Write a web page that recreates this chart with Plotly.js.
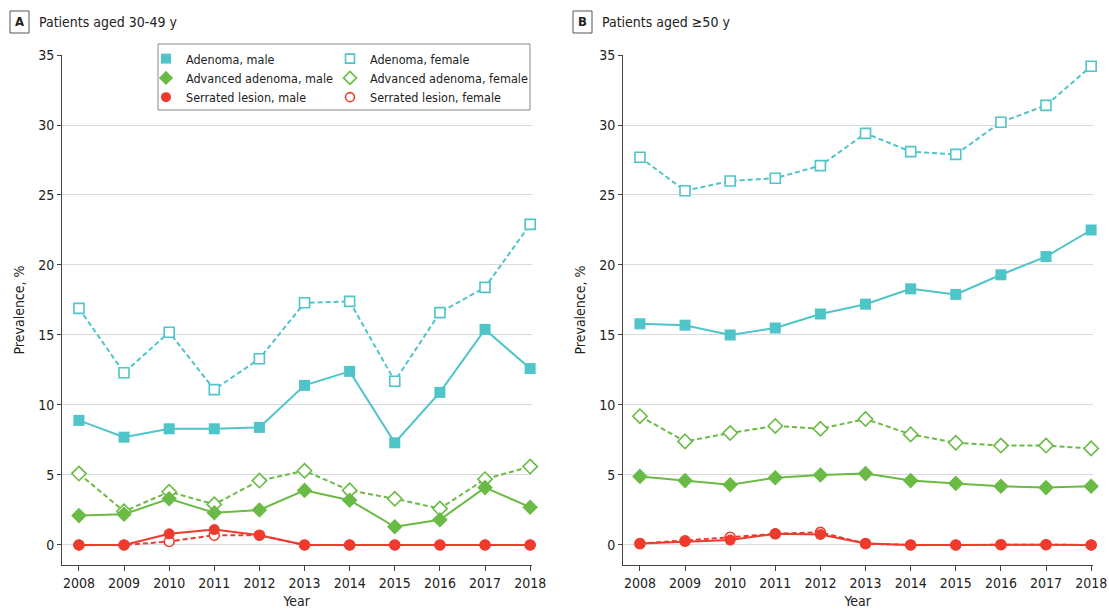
<!DOCTYPE html>
<html><head><meta charset="utf-8">
<script src="https://cdn.plot.ly/plotly-3.0.1.min.js"></script>
<style>body{margin:0;padding:0;background:#fff}#chart{width:1109px;height:609px}</style>
</head><body><div id="chart"></div>
<script>
const years = [2008,2009,2010,2011,2012,2013,2014,2015,2016,2017,2018];
const tickLabels = ['2008','2009','2010','2011','2012','2013','2014','2015','2016','2017','2018'];
// Panel A: patients aged 30-49 y
const a_adenomaMale = [8.9,7.7,8.3,8.3,8.4,11.4,12.4,7.3,10.9,15.4,12.6];
const a_adenomaFemale = [16.9,12.3,15.2,11.1,13.3,17.3,17.4,11.7,16.6,18.4,22.9];
const a_advMale = [2.1,2.2,3.3,2.3,2.5,3.9,3.2,1.3,1.8,4.1,2.7];
const a_advFemale = [5.1,2.4,3.8,2.9,4.6,5.3,3.9,3.3,2.6,4.7,5.6];
const a_serMale = [0,0,0.8,1.1,0.7,0,0,0,0,0,0];
const a_serFemale = [0,0,0.25,0.7,0.7,0,0,0,0,0,0];
// Panel B: patients aged >=50 y
const b_adenomaMale = [15.8,15.7,15.0,15.5,16.5,17.2,18.3,17.9,19.3,20.6,22.5];
const b_adenomaFemale = [27.7,25.3,26.0,26.2,27.1,29.4,28.1,27.9,30.2,31.4,34.2];
const b_advMale = [4.9,4.6,4.3,4.8,5.0,5.1,4.6,4.4,4.2,4.1,4.2];
const b_advFemale = [9.2,7.4,8.0,8.5,8.3,9.0,7.9,7.3,7.1,7.1,6.9];
const b_serMale = [0.1,0.25,0.35,0.8,0.75,0.1,0,0,0.02,0.02,0];
const b_serFemale = [0.1,0.3,0.55,0.8,0.9,0.1,0,0,0.02,0.02,0];
const seriesNames = ['Adenoma, male','Advanced adenoma, male','Serrated lesion, male','Adenoma, female','Advanced adenoma, female','Serrated lesion, female'];

const TEAL='#4fc4c9', GREEN='#6abb45', RED='#ee3b2e';
const FONT="'Liberation Sans Narrow','DejaVu Sans Condensed','Roboto',sans-serif";

function mk(color, symbol, female, size){
  return {symbol: symbol, size:size, color: female?'#ffffff':color,
    line:{color:color, width: female?1.6:0}};
}
function tr(x, y, ax, color, symbol, female, size){
  return {x:x, y:y, xaxis:ax==1?'x':'x2', yaxis:ax==1?'y':'y2', type:'scatter', mode:'lines+markers',
    showlegend:false, cliponaxis:false,
    line:{color:color, width:2, dash: female?'5px,3px':'solid'},
    marker:mk(color, symbol, female, size)};
}
function leg(name, color, symbol, female, size, legendId){
  return {x:[null], y:[null], type:'scatter', mode:'markers', name:name, legend:legendId,
    marker:mk(color, symbol, female, size)};
}
const data = [];
[[1,a_adenomaMale,a_adenomaFemale,a_advMale,a_advFemale,a_serMale,a_serFemale],
 [2,b_adenomaMale,b_adenomaFemale,b_advMale,b_advFemale,b_serMale,b_serFemale]].forEach(p=>{
  const ax=p[0];
  data.push(tr(years,p[2],ax,TEAL,'square',true,10));
  data.push(tr(years,p[1],ax,TEAL,'square',false,11));
  data.push(tr(years,p[4],ax,GREEN,'diamond',true,11));
  data.push(tr(years,p[3],ax,GREEN,'diamond',false,12));
  data.push(tr(years,p[6],ax,RED,'circle',true,10));
  data.push(tr(years,p[5],ax,RED,'circle',false,11));
});
data.push(leg(seriesNames[0],TEAL,'square',false,10,'legend'));
data.push(leg(seriesNames[1],GREEN,'diamond',false,11,'legend'));
data.push(leg(seriesNames[2],RED,'circle',false,10,'legend'));
data.push(leg(seriesNames[3],TEAL,'square',true,9,'legend2'));
data.push(leg(seriesNames[4],GREEN,'diamond',true,10,'legend2'));
data.push(leg(seriesNames[5],RED,'circle',true,9,'legend2'));

const W=1109,H=609;
const ydom=[1-565/H, 1-55/H];
function xax(dom){return {domain:dom, range:[2007.625,2018.03], tickmode:'array', tickvals:years, ticktext:tickLabels,
  showline:true, linecolor:'#444', linewidth:1, ticks:'outside', ticklen:5, tickcolor:'#444', showgrid:false, zeroline:false,
  tickfont:{family:FONT,size:14,color:'#222'}, title:{text:'Year', font:{family:FONT,size:14,color:'#222'}, standoff:11}};}
function yax(){return {domain:ydom, range:[-1.43,35], tickvals:[0,5,10,15,20,25,30,35],
  showline:true, linecolor:'#444', linewidth:1, ticks:'outside', ticklen:4, tickcolor:'#444',
  showgrid:true, gridcolor:'#d9d9d9', gridwidth:1, zeroline:false,
  tickfont:{family:FONT,size:14,color:'#222'}, title:{text:'Prevalence, %', font:{family:FONT,size:14,color:'#222'}, standoff:10}};}
const legBase = {orientation:'v', bgcolor:'rgba(0,0,0,0)', borderwidth:0, font:{family:FONT,size:12.5,color:'#222'},
  xref:'paper', yref:'paper', xanchor:'left', yanchor:'top', tracegroupgap:0, itemwidth:30};
const layout = {
  width:W, height:H, margin:{l:0,r:0,t:0,b:0}, paper_bgcolor:'#fff', plot_bgcolor:'#fff',
  showlegend:true, font:{family:FONT},
  xaxis: Object.assign(xax([62/W, 531.5/W]), {anchor:'y'}),
  yaxis: Object.assign(yax(), {anchor:'x'}),
  xaxis2: Object.assign(xax([623/W, 1092.5/W]), {anchor:'y2'}),
  yaxis2: Object.assign(yax(), {anchor:'x2'}),
  legend: Object.assign({}, legBase, {x:146/W, y:1-44/H}),
  legend2: Object.assign({}, legBase, {x:330/W, y:1-44/H}),
  shapes:[
    {type:'rect', xref:'paper', yref:'paper', x0:158/W, x1:530/W, y0:1-110/H, y1:1-44/H, line:{color:'#888',width:1}, fillcolor:'rgba(0,0,0,0)'},
    {type:'rect', xref:'paper', yref:'paper', x0:10/W, x1:29/W, y0:1-33/H, y1:1-11/H, line:{color:'#555',width:1}},
    {type:'rect', xref:'paper', yref:'paper', x0:573/W, x1:592/W, y0:1-33/H, y1:1-11/H, line:{color:'#555',width:1}}
  ],
  annotations:[
    {text:'<b>A</b>', xref:'paper', yref:'paper', x:19.5/W, y:1-22/H, showarrow:false, xanchor:'center', yanchor:'middle', font:{family:FONT,size:13,color:'#222'}},
    {text:'Patients aged 30-49 y', xref:'paper', yref:'paper', x:37/W, y:1-22/H, showarrow:false, xanchor:'left', yanchor:'middle', font:{family:FONT,size:14,color:'#222'}},
    {text:'<b>B</b>', xref:'paper', yref:'paper', x:582.5/W, y:1-22/H, showarrow:false, xanchor:'center', yanchor:'middle', font:{family:FONT,size:13,color:'#222'}},
    {text:'Patients aged ≥50 y', xref:'paper', yref:'paper', x:600/W, y:1-22/H, showarrow:false, xanchor:'left', yanchor:'middle', font:{family:FONT,size:14,color:'#222'}}
  ]
};
Plotly.newPlot('chart', data, layout, {displayModeBar:false, staticPlot:true});
</script></body></html>
